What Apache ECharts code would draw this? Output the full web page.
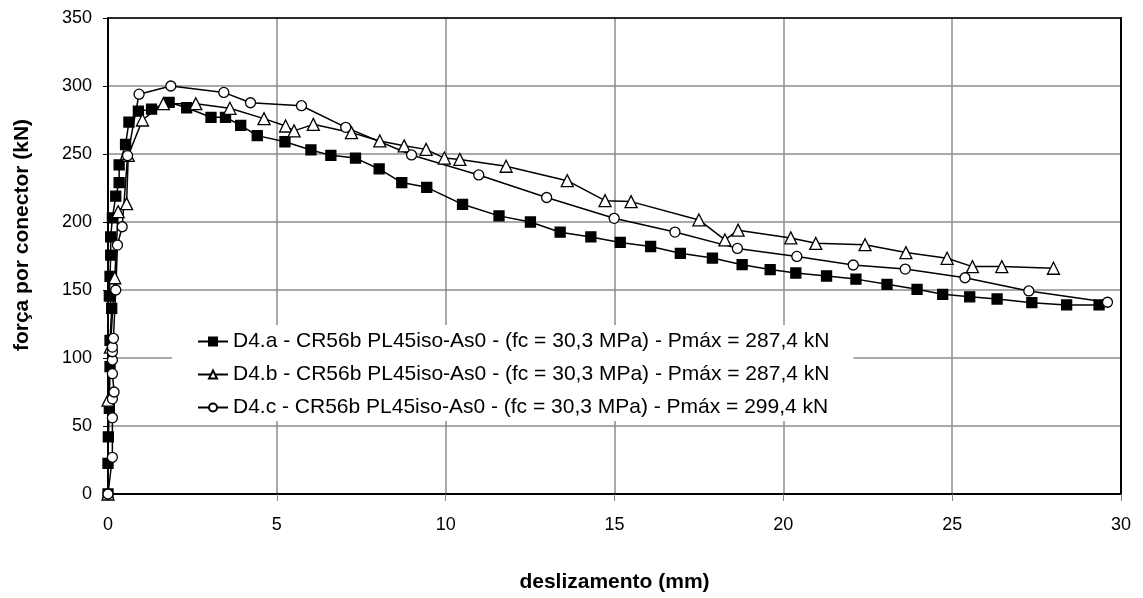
<!DOCTYPE html>
<html>
<head>
    <meta charset="utf-8">
    <title>ECharts</title>
    <script src="https://cdn.jsdelivr.net/npm/echarts@6/dist/echarts.min.js"></script>
</head>
<body style="margin:0">
<div id="main" style="width:1143px;height:598px;"></div>
<script type="text/javascript">
    // dados: [deslizamento (mm), força (kN)]
    var serieNomes = [
        'D4.a - CR56b PL45iso-As0 - (fc = 30,3 MPa) - Pmáx = 287,4 kN',
        'D4.b - CR56b PL45iso-As0 - (fc = 30,3 MPa) - Pmáx = 287,4 kN',
        'D4.c - CR56b PL45iso-As0 - (fc = 30,3 MPa) - Pmáx = 299,4 kN'
    ];
    var dadosA = [[0,0],[0,22.5],[0.01,42],[0.04,63],[0.06,93.6],[0.06,113],[0.11,136.5],[0.04,145.6],
        [0.06,160],[0.08,175.7],[0.08,189],[0.13,203],[0.23,219],[0.33,229],[0.33,242],[0.52,257],
        [0.62,273.5],[0.9,281.5],[1.29,283],[1.81,288],[2.33,284],[3.05,277],[3.48,277],[3.93,271],
        [4.42,263.5],[5.24,259],[6.01,253],[6.6,249],[7.33,247],[8.03,239],[8.7,229],[9.44,225.5],
        [10.5,213],[11.58,204.5],[12.51,200],[13.39,192.5],[14.3,189],[15.17,185],[16.07,182],
        [16.95,177],[17.9,173.5],[18.78,168.6],[19.61,165],[20.37,162.5],[21.28,160.3],[22.15,158],
        [23.07,154.2],[23.96,150.5],[24.72,146.8],[25.52,145],[26.33,143.4],[27.36,140.7],[28.39,139],
        [29.35,139]];
    var dadosB = [[0,0],[0,69],[0.07,108],[0.2,159],[0.3,207.6],[0.55,213.5],[0.6,249],[1.02,275],
        [1.64,287],[2.6,287],[3.61,283.6],[4.62,276],[5.26,270.6],[5.51,267],[6.08,271.8],[7.21,265.7],
        [8.05,259.6],[8.77,256],[9.42,253.4],[9.96,247],[10.42,246],[11.79,241],[13.6,230.4],
        [14.72,215.7],[15.49,215],[17.5,201.5],[18.27,186.8],[18.66,194],[20.22,188.3],[20.96,184.3],
        [22.42,183.3],[23.63,177.5],[24.85,173.3],[25.6,167.2],[26.47,167.2],[28.0,166]];
    var dadosC = [[0,0],[0.13,27],[0.13,56],[0.13,70],[0.18,75],[0.13,88.5],[0.13,98.5],[0.13,104.6],
        [0.13,108],[0.16,114.5],[0.23,150],[0.28,183],[0.42,196.5],[0.58,248.8],[0.92,294],[1.86,300],
        [3.43,295.3],[4.22,287.7],[5.73,285.5],[7.04,269.6],[8.99,249.3],[10.98,234.6],[12.99,218],
        [14.99,202.7],[16.79,192.6],[18.64,180.6],[20.4,174.7],[22.07,168.4],[23.61,165.4],[25.38,159],
        [27.27,149.3],[29.6,141]];

    var fonte = '"Liberation Sans", Arial, sans-serif';
    var myChart = echarts.init(document.getElementById('main'));

    function serie(nome, dados, simbolo, tam, cor) {
        return {
            name: nome,
            type: 'line',
            data: dados,
            symbol: simbolo,
            symbolSize: tam,
            showAllSymbol: true,
            lineStyle: {color: '#000', width: 1.5},
            itemStyle: {color: cor, borderColor: '#000', borderWidth: 1.3}
        };
    }

    myChart.setOption({
        animation: false,
        backgroundColor: '#fff',
        textStyle: {fontFamily: fonte},
        grid: {left: 108, right: 22, top: 18, bottom: 104, outerBoundsMode: 'none'},
        legend: {
            left: 172,
            top: 325,
            orient: 'vertical',
            backgroundColor: '#fff',
            padding: [6, 24, 3, 25],
            itemGap: 12,
            itemWidth: 30,
            itemHeight: 10,
            textStyle: {fontFamily: fonte, fontSize: 21, color: '#000'},
            data: serieNomes
        },
        xAxis: [{
            type: 'value',
            min: 0, max: 30, interval: 5,
            name: 'deslizamento (mm)',
            nameLocation: 'middle',
            nameGap: 78,
            nameTextStyle: {fontFamily: fonte, fontSize: 21, fontWeight: 'bold', color: '#000'},
            axisLine: {lineStyle: {color: '#000', width: 2}},
            axisTick: {length: 7, lineStyle: {color: '#808080'}},
            axisLabel: {fontSize: 18, color: '#000', margin: 22},
            splitLine: {lineStyle: {color: '#8c8c8c', width: 1.5}}
        }, {
            type: 'value', position: 'top', min: 0, max: 30,
            axisLine: {show: true, onZero: false, lineStyle: {color: '#000', width: 1.5}},
            axisTick: {show: false}, axisLabel: {show: false}, splitLine: {show: false}
        }],
        yAxis: [{
            type: 'value',
            min: 0, max: 350, interval: 50,
            name: 'força por conector (kN)',
            nameLocation: 'middle',
            nameGap: 75,
            nameTextStyle: {fontFamily: fonte, fontSize: 21, fontWeight: 'bold', color: '#000', padding: [0, 0, 0, 42]},
            axisLine: {show: true, lineStyle: {color: '#000', width: 2}},
            axisTick: {show: true, length: 5, lineStyle: {color: '#000'}},
            axisLabel: {fontSize: 18, color: '#000', margin: 16},
            splitLine: {lineStyle: {color: '#8c8c8c', width: 1.5}}
        }, {
            type: 'value', position: 'right', min: 0, max: 350,
            axisLine: {show: true, onZero: false, lineStyle: {color: '#000', width: 2}},
            axisTick: {show: false}, axisLabel: {show: false}, splitLine: {show: false}
        }],
        series: [
            serie(serieNomes[0], dadosA, 'rect', 10, '#000'),
            serie(serieNomes[1], dadosB, 'triangle', 12, '#fff'),
            serie(serieNomes[2], dadosC, 'circle', 10, '#fff')
        ]
    });
</script>
</body>
</html>
